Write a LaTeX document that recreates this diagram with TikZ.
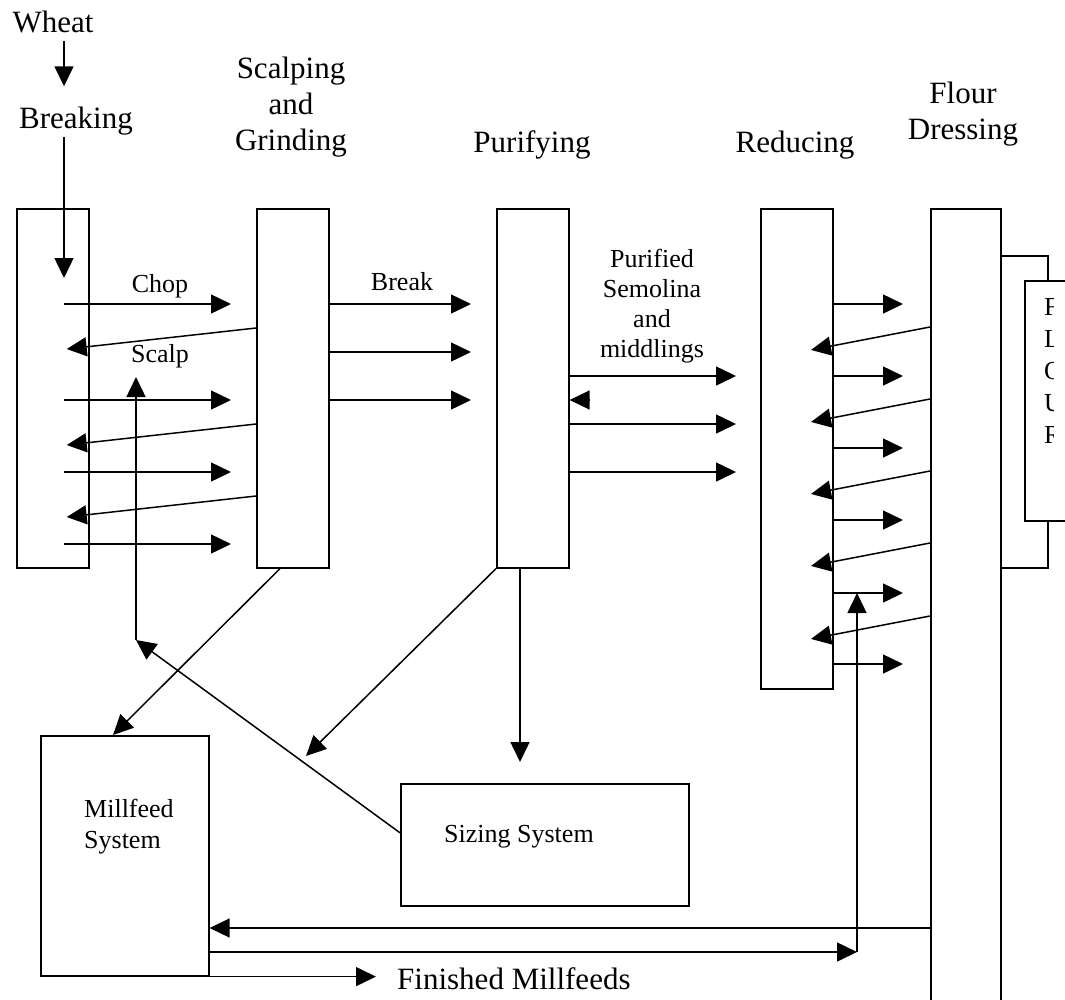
\documentclass[tikz,border=0pt]{standalone}
\usepackage{fontspec}
\setmainfont{Liberation Serif}
\usetikzlibrary{arrows.meta,positioning,calc}

\begin{document}
\begin{tikzpicture}[x=1pt, y=-1pt,
    stage/.style={draw, line width=1.6pt, minimum width=72pt, inner sep=0pt, anchor=north west},
    arr/.style={-{Triangle[length=20pt,width=19pt]}, line width=1.5pt},
    big/.style={font=\fontsize{31}{36}\selectfont, inner sep=0pt, align=center},
    small/.style={font=\fontsize{26}{30}\selectfont, inner sep=0pt, align=center}]
\useasboundingbox (0,0) rectangle (1065,999);

% stage boxes
\node[stage, minimum height=359pt] (brk) at (16,208) {};
\node[stage, minimum height=359pt] (scg) at (256,208) {};
\node[stage, minimum height=359pt] (pur) at (496,208) {};
\node[stage, minimum height=480pt] (red) at (760,208) {};
\node[stage, minimum width=70pt, minimum height=820pt] (fld) at (930,208) {};
\node[stage, minimum width=80pt, minimum height=240pt] (flr) at (1024,280) {};
\node[stage, minimum width=168pt, minimum height=240pt] (mfs) at (40,735) {};
\node[stage, minimum width=288pt, minimum height=122pt] (szs) at (400,783) {};

% headings
\node[big, anchor=base] (wheat) at (53,32) {Wheat};
\node[big, anchor=base] (breaking) at (76,128) {Breaking};
\node[big, anchor=north] (scglbl) at (291,57) {Scalping\\and\\Grinding};
\node[big, anchor=base] (purlbl) at (532,152) {Purifying};
\node[big, anchor=base] (redlbl) at (795,152) {Reducing};
\node[big, anchor=north] (fldlbl) at (963,82) {Flour\\Dressing};

% flow labels
\node[small, anchor=base] (chop) at (160,292) {Chop};
\node[small, anchor=base] (scalp) at (160,362) {Scalp};
\node[small, anchor=base] (break) at (402,290) {Break};
\node[small, anchor=north] (semo) at (652,249) {Purified\\Semolina\\and\\middlings};
\node[small, anchor=north west, align=left, font=\fontsize{26}{31}\selectfont] (mfslbl) at (84,799) {Millfeed\\System};
\node[small, anchor=base west] (szslbl) at (444,842) {Sizing System};
\begin{scope}
  \clip (1024,280) rectangle (1053,520);
  \node[small, anchor=north west, align=left, font=\fontsize{26}{32}\selectfont] (flrlbl) at (1044,298) {F\\L\\O\\U\\R};
\end{scope}
\node[big, anchor=base west] (fin) at (397,989) {Finished Millfeeds};

\coordinate (feed) at (64,0);
\coordinate (feedend) at (64,278);
\coordinate (sizein) at (306,756);
\coordinate (drop) at (520,762);
\coordinate (scalpturn) at (136,640);
\coordinate (scalptip) at (136,377);
\coordinate (recyc) at (857,952);

% wheat in
\draw[arr, shorten <=8pt, shorten >=20pt] (wheat.south -| feed) -- (breaking.north -| feed);
\draw[arr, shorten <=2pt] (breaking.south -| feed) -- (feedend);

% breaking <-> scalping
\foreach \y in {304,400,472,544}
  \draw[arr, shorten >=25pt] (feed |- 0,\y) -- (scg.west |- 0,\y);
\foreach \y in {328,424,496}
  \draw[arr, shorten >=-23pt] (scg.west |- 0,\y) -- ($(brk.east |- 0,\y)+(0,18.5)$);

% scalping -> purifying
\foreach \y in {304,352,400}
  \draw[arr, shorten >=25pt] (scg.east |- 0,\y) -- (pur.west |- 0,\y);

% purifying -> reducing
\foreach \y in {376,424,472}
  \draw[arr, shorten >=24pt] (pur.east |- 0,\y) -- (red.west |- 0,\y);
\draw[arr] (pur.east |- 0,400) ++(20,0) -- (pur.east |- 0,400);

% reducing <-> flour dressing
\foreach \y in {304,376,448,520,593,664}
  \draw[arr, shorten >=27pt] (red.east |- 0,\y) -- (fld.west |- 0,\y);
\foreach \y in {327,399,471,543,616}
  \draw[arr, shorten >=-23pt] (fld.west |- 0,\y) -- ($(red.east |- 0,\y)+(0,18.6)$);

% flour box
\draw[line width=1.6pt] ([yshift=-48pt]fld.north east) -| ([xshift=24pt]flr.north west);
\draw[line width=1.6pt] ([xshift=24pt]flr.south west) |- ([yshift=-360pt]fld.north east);

% to millfeed and sizing
\draw[arr] ([xshift=24pt]scg.south west) -- ([xshift=73pt]mfs.north west);
\draw[arr] (pur.south west) -- (sizein);
\draw[arr] ([xshift=24pt]pur.south west) -- (drop);
\draw[arr] ([yshift=12pt]szs.west) -- (scalpturn);
\draw[arr] (scalpturn) -- (scalptip);

% bottom returns
\draw[arr] (fld.west |- 0,928) -- (mfs.east |- 0,928);
\draw[arr] (mfs.east |- 0,952) -- (recyc);
\draw[arr] (recyc) -- (recyc |- 0,593);
\draw[arr, shorten >=21pt] (mfs.south east) -- (fin.west |- mfs.south east);
\end{tikzpicture}
\end{document}
